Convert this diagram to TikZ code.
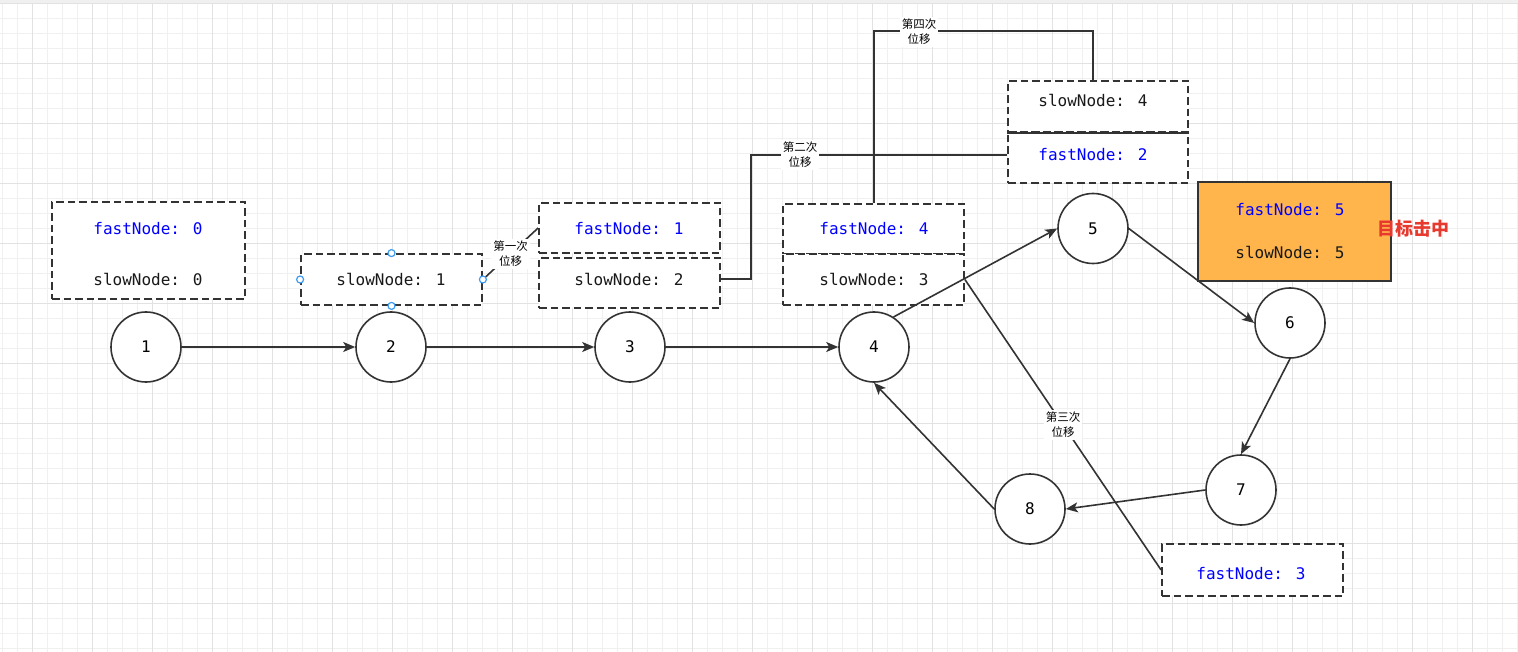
\documentclass[tikz,border=0pt]{standalone}
\usepackage{fontspec}
\newfontfamily\monof{DejaVu Sans Mono}
\newfontfamily\cjk{Noto Sans CJK SC}
\usetikzlibrary{arrows.meta,calc}
\definecolor{ink}{HTML}{333333}
\definecolor{fastblue}{HTML}{0000FF}
\definecolor{hitorange}{HTML}{FFB54C}
\definecolor{hitred}{HTML}{E8392E}
\definecolor{handleblue}{HTML}{3D9BF0}
\definecolor{gridminor}{HTML}{F0F0F0}
\definecolor{gridmajor}{HTML}{E2E2E2}
\begin{document}
\begin{tikzpicture}[x=1pt,y=-1pt,
  circ/.style={circle,draw=ink,line width=1.6pt,minimum size=70pt,inner sep=0pt,fill=white,font=\monof\fontsize{16}{18}\selectfont},
  dbox/.style={draw=ink,line width=1.8pt,dash pattern=on 7.5pt off 4pt,fill=white,inner sep=0pt},
  sbox/.style={draw=ink,line width=1.8pt,fill=hitorange,inner sep=0pt},
  txt/.style={font=\monof\fontsize{16}{18}\selectfont,inner sep=0pt,text=black!90},
  fasttxt/.style={txt,text=fastblue},
  lbl/.style={fill=white,font=\cjk\fontsize{11.5}{15}\selectfont,align=center,inner sep=2pt,text=black},
  handle/.style={circle,draw=handleblue,fill=white,line width=1.2pt,minimum size=7pt,inner sep=0pt},
  arr/.style={draw=ink,line width=1.6pt,-{Stealth[length=12pt,width=10pt,inset=3pt]}},
  link/.style={draw=ink,line width=1.6pt}
]
\useasboundingbox (0,0) rectangle (1518,652);
\fill[white] (0,0) rectangle (1518,652);
% grid
\foreach \i in {0,...,101} \draw[gridminor,line width=1pt] ({2.7+15*\i},0) -- ({2.7+15*\i},652);
\foreach \j in {0,...,43} \draw[gridminor,line width=1pt] (0,{3.3+15*\j}) -- (1518,{3.3+15*\j});
\foreach \i in {0,...,24} \draw[gridmajor,line width=1pt] ({32.7+60*\i},0) -- ({32.7+60*\i},652);
\foreach \j in {0,...,10} \draw[gridmajor,line width=1pt] (0,{3.3+60*\j}) -- (1518,{3.3+60*\j});
\fill[gridminor] (0,0) rectangle (1518,3);

% circles
\node[circ] (n1) at (146,347) {1};
\node[circ] (n2) at (391,347) {2};
\node[circ] (n3) at (630,347) {3};
\node[circ] (n4) at (874,347) {4};
\node[circ] (n5) at (1093,228.5) {5};
\node[circ] (n6) at (1290,323) {6};
\node[circ] (n7) at (1241,490) {7};
\node[circ] (n8) at (1030,509) {8};

% boxes
\node[dbox,minimum width=193pt,minimum height=97pt] (A) at (148.5,250.5) {};
\node[fasttxt] (At) at (148,229) {fastNode: 0};
\node[txt] (As) at (148,279) {slowNode: 0};

\node[dbox,minimum width=181pt,minimum height=51pt] (B) at (391.5,279.5) {};
\node[txt] (Bs) at (391,279) {slowNode: 1};

\node[dbox,minimum width=181pt,minimum height=50pt] (C) at (629.5,228) {};
\node[fasttxt] (Ct) at (629,229) {fastNode: 1};
\node[dbox,minimum width=181pt,minimum height=50pt] (D) at (629.5,283) {};
\node[txt] (Ds) at (629,279) {slowNode: 2};

\node[dbox,minimum width=181pt,minimum height=50pt] (Et) at (873.5,229) {};
\node[fasttxt] (Ett) at (874,229) {fastNode: 4};
\node[dbox,minimum width=181pt,minimum height=51pt] (Eb) at (873.5,279.5) {};
\node[txt] (Ebt) at (874,279) {slowNode: 3};

\node[dbox,minimum width=180pt,minimum height=51pt] (Ft) at (1098,106.5) {};
\node[txt] (Ftt) at (1093,100) {slowNode: 4};
\node[dbox,minimum width=180pt,minimum height=51pt] (Fb) at (1098,157.5) {};
\node[fasttxt] (Fbt) at (1093,155) {fastNode: 2};
\draw[ink,line width=1.8pt] (Ft.south west) -- (Ft.south east);

\node[sbox,minimum width=193pt,minimum height=99pt] (G) at (1294.5,231.5) {};
\node[fasttxt] (Gt) at (1290,210) {fastNode: 5};
\node[txt] (Gs) at (1290,252) {slowNode: 5};
\node[font=\cjk\bfseries\fontsize{18}{20}\selectfont,text=hitred,inner sep=0pt] (hit) at (1413,229) {目标击中};

\node[dbox,minimum width=181pt,minimum height=52pt] (H) at (1252.5,570) {};
\node[fasttxt] (Ht) at (1251,574) {fastNode: 3};

% arrows
\draw[arr] (n1.east) -- (n2.west);
\draw[arr] (n2.east) -- (n3.west);
\draw[arr] (n3.east) -- (n4.west);
\draw[arr] (n4.57) -- (n5.west);
\draw[arr] (n5.east) -- (n6.west);
\draw[arr] (n6.south) -- (n7.north);
\draw[arr] (n7.west) -- (n8.east);
\draw[arr] (n8.west) -- (n4.south);

% displacement links
\draw[link] (B.east) -- node[lbl] (l1) {第一次\\位移} (C.west);
\draw[link] (Ds.east -| D.east) -- ++(30,0) |- (Fbt -| Fb.west);
\node[lbl] (l2) at (800,155) {第二次\\位移};
\draw[link] (Eb.east) -- node[lbl] (l3) {第三次\\位移} (H.west);
\draw[link] (Et.north -| Ett) -- ++(0,-172) -| (Ftt |- Ft.north);
\node[lbl] (l4) at (919,32) {第四次\\位移};

% selection handles
\node[handle] (h1) at (B.north) {};
\node[handle] (h2) at (B.south) {};
\node[handle] (h3) at (B.east) {};
\node[handle] (h4) at (B.west) {};
\end{tikzpicture}
\end{document}
